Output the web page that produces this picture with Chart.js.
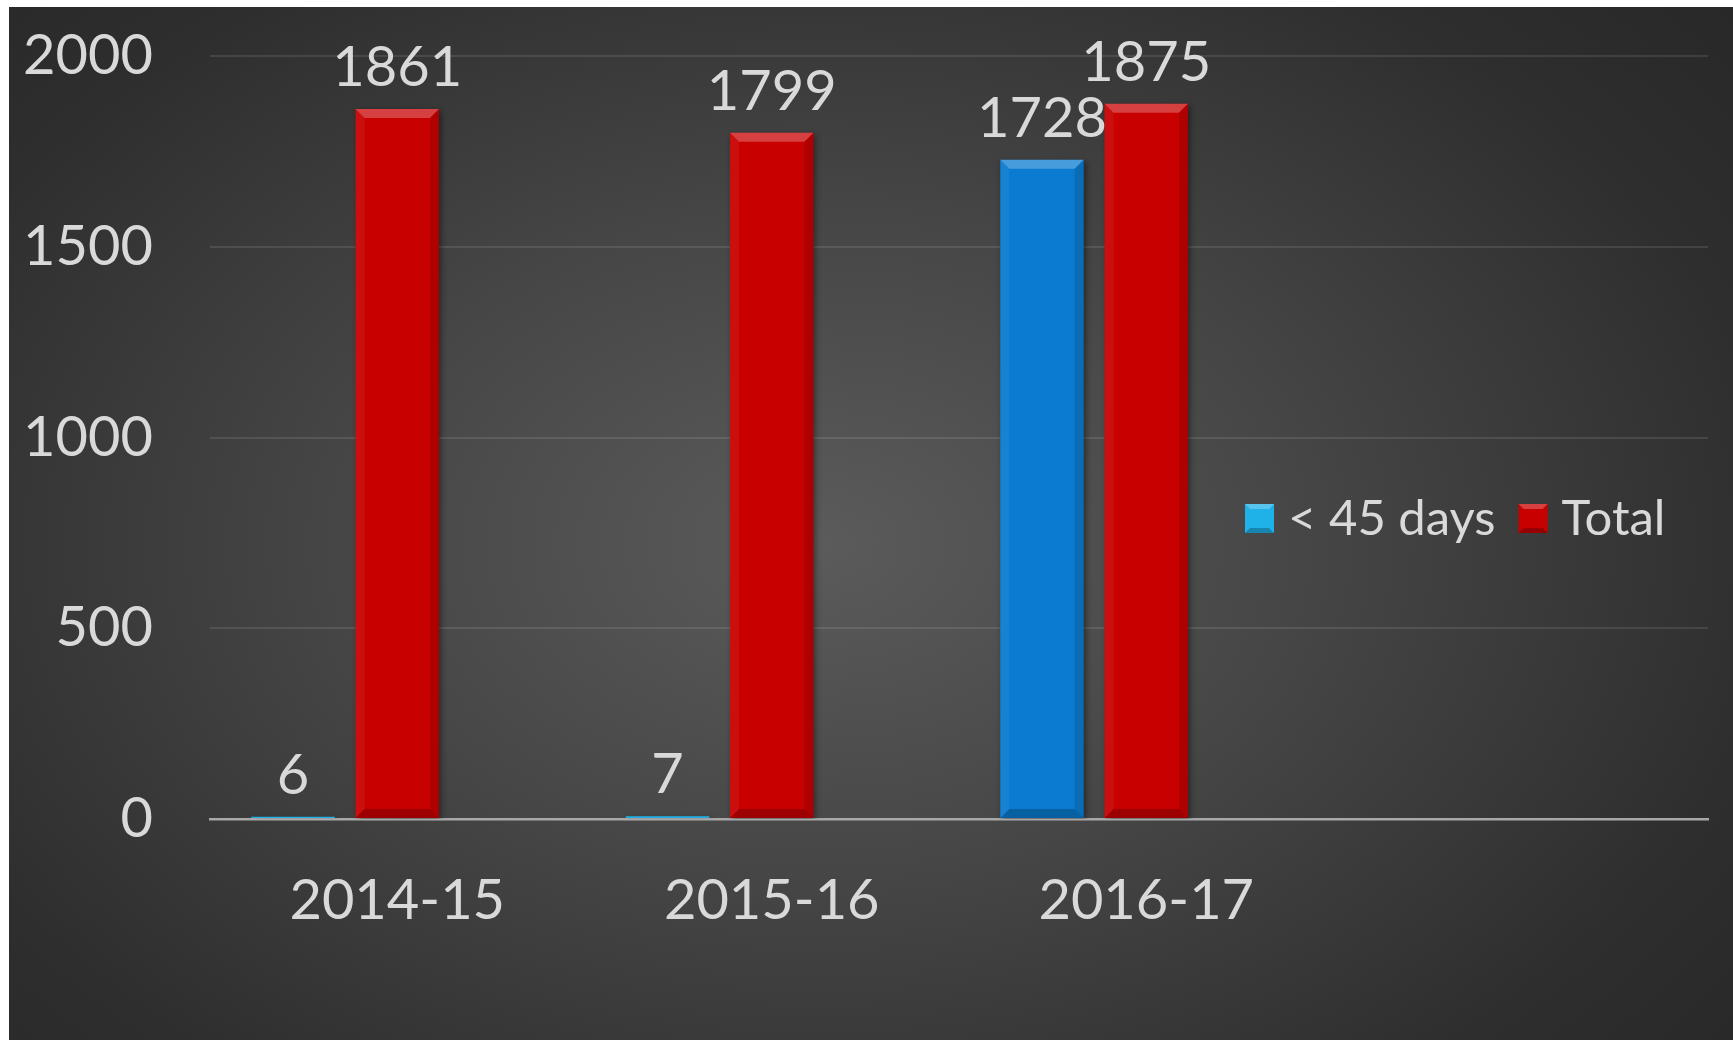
<!DOCTYPE html>
<html>
<head>
<meta charset="utf-8">
<script src="https://cdn.jsdelivr.net/npm/chart.js@4.4.1/dist/chart.umd.min.js"></script>
<style>
    html, body { margin: 0; padding: 0; background: #fff; }
    #wrap {
        position: absolute; left: 9px; top: 7px; width: 1724px; height: 1033px;
        background: radial-gradient(ellipse 70% 80% at 47% 52%, #5b5b5b 0%, #464646 40%, #2e2e2e 80%, #282828 100%);
    }
</style>
</head>
<body>
<div id="wrap"><canvas id="chart"></canvas></div>
<script>
const categories = ['2014-15', '2015-16', '2016-17', ''];
const under45Days = [6, 7, 1728];
const totals = [1861, 1799, 1875];
const seriesNames = ['< 45 days', 'Total'];
const yTicks = [0, 500, 1000, 1500, 2000];

const textColor = '#d9d9d9';
const fontFamily = 'Lato, "Open Sans", sans-serif';

// bevel + shadow look of the office-style bars
const bevelPlugin = {
    id: 'bevel',
    beforeDatasetsDraw(chart) {
        const ctx = chart.ctx;
        ctx.save();
        ctx.shadowColor = 'rgba(0,0,0,0.45)';
        ctx.shadowBlur = 6;
        ctx.shadowOffsetX = 2;
        ctx.shadowOffsetY = 2;
    },
    afterDatasetsDraw(chart) {
        const ctx = chart.ctx;
        ctx.restore();
        const poly = (pts, fill) => {
            ctx.beginPath();
            ctx.moveTo(pts[0][0], pts[0][1]);
            pts.slice(1).forEach(p => ctx.lineTo(p[0], p[1]));
            ctx.closePath();
            ctx.fillStyle = fill;
            ctx.fill();
        };
        chart.data.datasets.forEach((ds, i) => {
            const meta = chart.getDatasetMeta(i);
            meta.data.forEach((bar, j) => {
                if (ds.data[j] == null) return;
                const {x, y, base, width} = bar.getProps(['x', 'y', 'base', 'width'], true);
                const l = x - width / 2, r = x + width / 2, t = y, b = base;
                const d = Math.min(9, (b - t) / 2, width / 2);
                if (d < 2) return;
                ctx.save();
                poly([[l, t], [r, t], [r - d, t + d], [l + d, t + d]], 'rgba(255,255,255,0.25)');
                poly([[l, t], [l + d, t + d], [l + d, b - d], [l, b]], 'rgba(255,255,255,0.06)');
                poly([[r, t], [r, b], [r - d, b - d], [r - d, t + d]], 'rgba(0,0,0,0.12)');
                poly([[l, b], [l + d, b - d], [r - d, b - d], [r, b]], 'rgba(0,0,0,0.22)');
                ctx.restore();
            });
        });
    }
};

const valueLabels = {
    id: 'valueLabels',
    afterDatasetsDraw(chart) {
        const ctx = chart.ctx;
        ctx.save();
        ctx.font = '56px ' + fontFamily;
        ctx.fillStyle = textColor;
        ctx.textAlign = 'center';
        ctx.textBaseline = 'alphabetic';
        chart.data.datasets.forEach((ds, i) => {
            if (!ds.showValues) return;
            chart.getDatasetMeta(i).data.forEach((bar, j) => {
                if (ds.data[j] == null) return;
                ctx.fillText(String(ds.data[j]), bar.x, bar.y - 23);
            });
        });
        ctx.restore();
    }
};

// legend sitting inside the empty 4th category, like the original
const sideLegend = {
    id: 'sideLegend',
    afterDraw(chart) {
        const ctx = chart.ctx;
        const area = chart.chartArea;
        let x = area.left + 1035;
        const base = 528;
        const box = 29;
        ctx.save();
        ctx.font = '49px ' + fontFamily;
        ctx.textBaseline = 'alphabetic';
        chart.data.datasets.forEach((ds, i) => {
            if (!ds.inLegend) return;
            const col = Array.isArray(ds.backgroundColor) ? ds.backgroundColor[0] : ds.backgroundColor;
            ctx.fillStyle = col;
            ctx.fillRect(x, base - 31, box, box);
            ctx.fillStyle = 'rgba(255,255,255,0.25)';
            ctx.beginPath();
            ctx.moveTo(x, base - 31); ctx.lineTo(x + box, base - 31);
            ctx.lineTo(x + box - 5, base - 26); ctx.lineTo(x + 5, base - 26);
            ctx.closePath(); ctx.fill();
            ctx.fillStyle = 'rgba(0,0,0,0.25)';
            ctx.beginPath();
            ctx.moveTo(x, base - 2); ctx.lineTo(x + box, base - 2);
            ctx.lineTo(x + box - 5, base - 7); ctx.lineTo(x + 5, base - 7);
            ctx.closePath(); ctx.fill();
            x += box + 14;
            ctx.fillStyle = textColor;
            ctx.fillText(ds.label, x, base);
            x += ctx.measureText(ds.label).width + 23;
        });
        ctx.restore();
    }
};

const chart = new Chart(document.getElementById('chart').getContext('2d'), {
    type: 'bar',
    data: {
        labels: categories,
        datasets: [
            {
                label: seriesNames[0],
                data: under45Days,
                backgroundColor: ['#1fb2e8', '#1fb2e8', '#0a7bd0'],
                borderWidth: 0,
                showValues: true,
                inLegend: true,
            },
            {
                label: seriesNames[1],
                data: totals,
                backgroundColor: '#c80000',
                borderWidth: 0,
                showValues: true,
                inLegend: true,
            },
            {
                // empty third series, keeps the bars shifted left in each category
                label: '',
                data: [null, null, null],
                backgroundColor: 'rgba(0,0,0,0)',
            }
        ],
    },
    options: {
        responsive: true,
        maintainAspectRatio: false,
        animation: false,
        categoryPercentage: 0.835,
        barPercentage: 0.8,
        layout: {padding: {top: 49, right: 25, bottom: 0, left: 0}},
        plugins: {
            legend: {display: false},
            tooltip: {enabled: false},
        },
        scales: {
            x: {
                grid: {display: false},
                border: {display: true, color: '#a8a8a8', width: 2.5},
                ticks: {color: textColor, font: {family: fontFamily, size: 56}, padding: 40, maxRotation: 0},
                afterFit: (scale) => { scale.height = 221; },
            },
            y: {
                min: 0,
                max: 2000,
                afterBuildTicks: (scale) => { scale.ticks = yTicks.map(v => ({value: v})); },
                grid: {
                    color: (c) => c.tick && c.tick.value === 0 ? 'rgba(0,0,0,0)' : 'rgba(255,255,255,0.1)',
                    lineWidth: 2,
                    drawTicks: false,
                },
                border: {display: false},
                ticks: {
                    color: textColor,
                    font: {family: fontFamily, size: 56},
                    padding: 57,
                    callback: (v) => String(v),
                },
                afterFit: (scale) => {
                    scale.width = 201;
                    scale.paddingTop = 0;
                    scale.paddingBottom = 0;
                },
            }
        }
    },
    plugins: [bevelPlugin, valueLabels, sideLegend],
});
</script>
</body>
</html>
